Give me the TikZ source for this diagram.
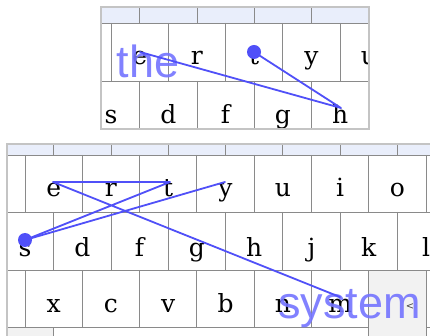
\documentclass[tikz,border=0pt]{standalone}
\usepackage{fontspec}
\setmainfont{DejaVu Serif}
\newfontfamily\wordfont{Liberation Sans}
\definecolor{stripblue}{HTML}{E9EEFB}
\definecolor{keyline}{HTML}{8A8A8A}
\definecolor{frameline}{HTML}{C4C4C4}
\definecolor{gest}{HTML}{5050F8}
\definecolor{wordblue}{HTML}{7474FF}
\definecolor{bskey}{HTML}{F2F2F2}
\begin{document}
\begin{tikzpicture}[x=1pt,y=-1pt,
  keyletter/.style={anchor=base, inner sep=0pt, font=\fontsize{25}{30}\selectfont},
  keyrule/.style={draw=keyline, line width=0.9pt},
  framerule/.style={draw=frameline, line width=1.6pt},
  gesture/.style={draw=gest, line width=1.8pt, line cap=round, line join=round},
  word/.style={text=wordblue, anchor=base west, inner sep=0pt, opacity=0.9, font=\wordfont\fontsize{45}{50}\selectfont},
  startdot/.style={fill=gest, circle, inner sep=0pt, minimum size=14pt}]
\useasboundingbox (0,0) rectangle (430,336);
\fill[white] (0,0) rectangle (430,336);

% ---------------- top panel ----------------
\begin{scope}
\clip (101,7) rectangle (369,129);
\fill[white] (101,7) rectangle (369,129);
\fill[stripblue] (101,7) rectangle (369,23);
\draw[keyrule] (101,23) -- (369,23);
\draw[keyrule] (101,81) -- (369,81);
\foreach \x in {139.65,196.95,254.25,311.55} \draw[keyrule] (\x,7) -- (\x,23);
\foreach \x in {111,168.3,225.6,282.9,340.2} \draw[keyrule] (\x,23) -- (\x,81);
\foreach \x in {139.65,196.95,254.25,311.55} \draw[keyrule] (\x,81) -- (\x,129);
% row 1 letters
\node[keyletter] (te) at (139.65,65) {e};
\node[keyletter] (tr) at (196.95,65) {r};
\node[keyletter] (tt) at (254.25,65) {t};
\node[keyletter] (ty) at (311.55,65) {y};
\node[keyletter] (tu) at (368.85,65) {u};
% row 2 letters
\node[keyletter] (ts) at (111,124) {s};
\node[keyletter] (td) at (168.3,124) {d};
\node[keyletter] (tf) at (225.6,124) {f};
\node[keyletter] (tg) at (282.9,124) {g};
\node[keyletter] (th) at (340.2,124) {h};
% word
\node[word] (theword) at (116.5,78) {the};
% gesture
\coordinate (gt1) at (254,52);
\coordinate (gt2) at (341,108);
\coordinate (gt3) at (140,52);
\draw[gesture] (gt1) -- (gt2) -- (gt3);
\node[startdot] (tdot) at (gt1) {};
\end{scope}
\draw[framerule] (101,7) rectangle (369,129);

% ---------------- bottom panel ----------------
\begin{scope}
\clip (7,144) rectangle (430,336);
\fill[white] (7,144) rectangle (430,336);
\fill[stripblue] (7,144) rectangle (430,155);
\fill[bskey] (368.8,270) rectangle (426.1,336);
\fill[bskey] (7,327) rectangle (53.65,336);
\draw[keyrule] (7,155) -- (430,155);
\draw[keyrule] (7,212) -- (430,212);
\draw[keyrule] (7,270) -- (430,270);
\draw[keyrule] (7,327) -- (368.8,327);
\draw[keyrule] (426.1,327) -- (430,327);
\foreach \k in {0,...,6} \draw[keyrule] ({53.65+57.3*\k},144) -- ({53.65+57.3*\k},155);
\foreach \k in {0,...,7} \draw[keyrule] ({25+57.3*\k},155) -- ({25+57.3*\k},212);
\foreach \k in {0,...,6} \draw[keyrule] ({53.65+57.3*\k},212) -- ({53.65+57.3*\k},270);
\foreach \k in {0,...,7} \draw[keyrule] ({25+57.3*\k},270) -- ({25+57.3*\k},327);
\foreach \x in {53.65,368.8,426.1} \draw[keyrule] (\x,327) -- (\x,336);
% row 1
\node[keyletter] (be) at (53.65,197) {e};
\node[keyletter] (br) at (110.95,197) {r};
\node[keyletter] (bt) at (168.25,197) {t};
\node[keyletter] (by) at (225.55,197) {y};
\node[keyletter] (bu) at (282.85,197) {u};
\node[keyletter] (bi) at (340.15,197) {i};
\node[keyletter] (bo) at (397.45,197) {o};
% row 2
\node[keyletter] (bs) at (25,256) {s};
\node[keyletter] (bd) at (82.3,256) {d};
\node[keyletter] (bf) at (139.6,256) {f};
\node[keyletter] (bg) at (196.9,256) {g};
\node[keyletter] (bh) at (254.2,256) {h};
\node[keyletter] (bj) at (311.5,256) {j};
\node[keyletter] (bk) at (368.8,256) {k};
\node[keyletter] (bl) at (426.1,256) {l};
% row 3
\node[keyletter] (bx) at (53.65,312) {x};
\node[keyletter] (bc) at (110.95,312) {c};
\node[keyletter] (bv) at (168.25,312) {v};
\node[keyletter] (bb) at (225.55,312) {b};
\node[keyletter] (bn) at (282.85,312) {n};
\node[keyletter] (bm) at (340.15,312) {m};
\node[anchor=base, inner sep=0pt, text=black!75, font=\fontsize{10}{12}\selectfont] (bback) at (410,309) {<};
% word
\node[word] (systemword) at (278,318) {system};
% gesture
\coordinate (gs1) at (25,240);
\coordinate (gs2) at (225,182);
\coordinate (gs3) at (170,182);
\coordinate (gs4) at (53,182);
\coordinate (gs5) at (340,297);
\draw[gesture] (gs1) -- (gs2);
\draw[gesture] (gs1) -- (gs3) -- (gs4) -- (gs5);
\node[startdot] (bdot) at (gs1) {};
\end{scope}
\draw[framerule] (7,336) -- (7,144) -- (430,144);
\end{tikzpicture}
\end{document}
